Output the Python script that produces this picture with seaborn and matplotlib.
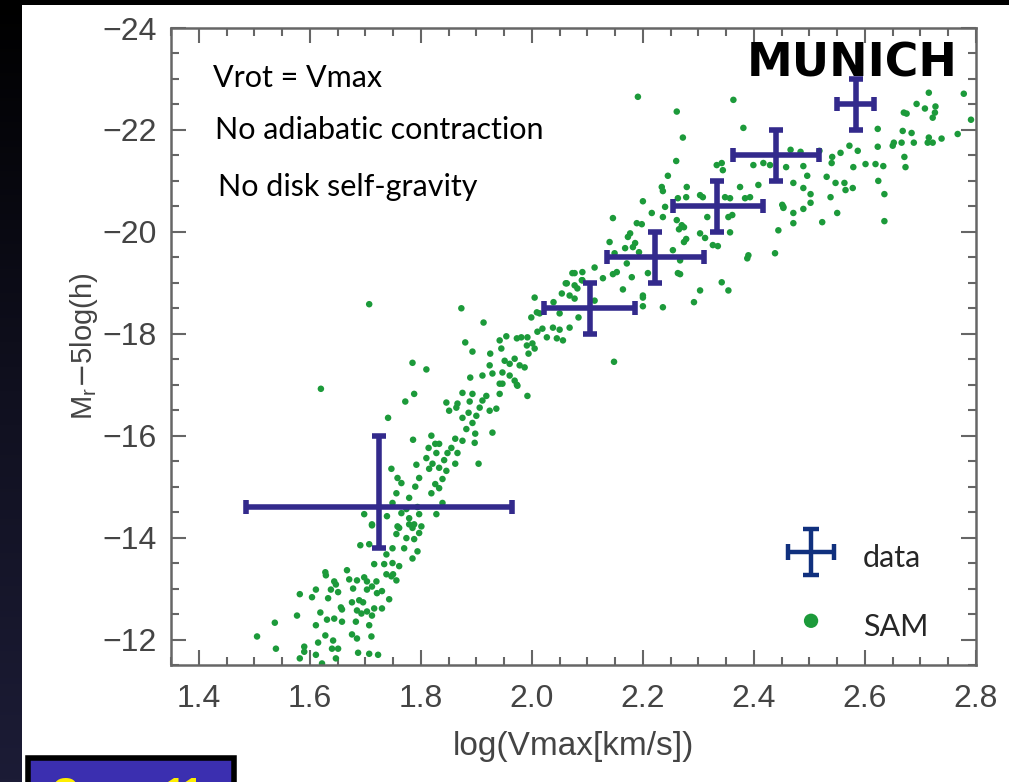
import numpy as np
import matplotlib
matplotlib.use("Agg")
import matplotlib.pyplot as plt
from matplotlib.patches import Rectangle
from matplotlib.ticker import AutoMinorLocator
from matplotlib.colors import LinearSegmentedColormap
from matplotlib.legend_handler import HandlerErrorbar
import seaborn as sns

# binned observational data (log Vmax, M_r - 5log h)
data_x = [1.725, 2.105, 2.222, 2.334, 2.44, 2.583]
data_y = [-14.6, -18.5, -19.5, -20.5, -21.5, -22.5]
data_xerr_lo = [0.24, 0.084, 0.087, 0.08, 0.077, 0.033]
data_xerr_hi = [0.24, 0.08, 0.088, 0.083, 0.078, 0.033]
data_yerr_bright = [1.4, 0.5, 0.5, 0.5, 0.5, 0.5]
data_yerr_faint = [0.8, 0.5, 0.5, 0.5, 0.5, 0.5]

# SAM galaxies
sam_x = [
    1.505, 1.537, 1.539, 1.582, 1.577, 1.611, 1.604, 1.619, 1.611, 1.615, 1.590, 1.590, 1.582,
    1.628, 1.629, 1.644, 1.647, 1.638, 1.651, 1.633, 1.631, 1.644, 1.658, 1.628, 1.642, 1.640,
    1.651, 1.647, 1.611, 1.622, 1.667, 1.671, 1.678, 1.656, 1.658, 1.676, 1.689, 1.696, 1.685,
    1.693, 1.703, 1.716, 1.712, 1.683, 1.707, 1.676, 1.685, 1.711, 1.687, 1.707, 1.723, 1.685,
    1.698, 1.703, 1.720, 1.712, 1.703, 1.721, 1.730, 1.743, 1.730, 1.716, 1.734, 1.749, 1.761,
    1.738, 1.750, 1.756, 1.747, 1.691, 1.707, 1.712, 1.738, 1.749, 1.756, 1.761, 1.770, 1.774,
    1.785, 1.794, 1.788, 1.797, 1.801, 1.779,
    1.741, 1.772, 1.788, 1.786, 1.747, 1.758, 1.765, 1.756, 1.749, 1.779, 1.790, 1.797, 1.792,
    1.810, 1.814, 1.819, 1.826, 1.833, 1.828, 1.815, 1.821, 1.833, 1.842, 1.848, 1.855, 1.862,
    1.866, 1.862, 1.846, 1.839, 1.826, 1.819, 1.833, 1.839, 1.828, 1.875, 1.898, 1.904, 1.897,
    1.929, 1.882, 1.875, 1.886, 1.893, 1.900, 1.906, 1.911, 1.918, 1.924, 1.936, 1.942, 1.947,
    1.969, 1.974, 1.992, 1.893, 1.875, 1.888, 1.866, 1.846, 1.864, 1.851, 1.774, 1.779, 1.765,
    1.788, 1.758, 1.797, 1.712, 1.698, 1.739, 1.794, 1.785,
    1.785, 1.810, 1.873, 1.913, 1.880, 1.893, 1.889, 1.911, 1.925, 1.924, 1.929, 1.942, 1.954,
    1.945, 1.951, 1.960, 1.969, 1.978, 1.987, 1.947, 1.960, 1.973, 1.942, 1.973, 1.981, 1.992,
    1.991, 2.001, 2.005, 1.994, 2.010, 2.019, 2.027, 2.038, 2.050, 2.045, 2.056, 1.999, 2.009,
    2.014, 2.005, 2.039, 2.054, 2.061, 2.068, 2.077, 2.073, 2.091, 2.091, 2.082, 2.084, 2.050,
    2.068, 2.113, 2.113, 1.707, 1.620,
    2.191, 2.261, 2.272, 2.260, 2.245, 2.234, 2.236, 2.200, 2.216, 2.146, 2.189, 2.198, 2.177,
    2.173, 2.140, 2.186, 2.168, 2.182, 2.193, 2.149, 2.171, 2.153, 2.146, 2.180, 2.209, 2.279,
    2.278, 2.263, 2.240, 2.236, 2.261, 2.270, 2.274, 2.265, 2.278, 2.274, 2.254, 2.267, 2.303,
    2.312, 2.303, 2.308, 2.333, 2.342, 2.344, 2.348, 2.357, 2.361, 2.354, 2.357, 2.326, 2.335,
    2.316, 2.375, 2.384, 2.393, 2.408, 2.381, 2.363, 2.399, 2.417, 2.429, 2.451, 2.453, 2.444,
    2.438, 2.390, 2.388, 2.342, 2.354, 2.303, 2.263, 2.164, 2.200, 2.077, 2.063, 2.077, 2.090,
    2.128, 2.236, 2.200, 2.200, 2.292, 2.267, 2.148,
    2.715, 2.778, 2.693, 2.708, 2.727, 2.726, 2.722, 2.670, 2.675, 2.791, 2.623, 2.668, 2.684,
    2.767, 2.715, 2.738, 2.713, 2.722, 2.688, 2.666, 2.652, 2.650, 2.623, 2.572, 2.587, 2.556,
    2.541, 2.540, 2.518, 2.484, 2.466, 2.671, 2.673, 2.601, 2.619, 2.633, 2.579, 2.458, 2.489,
    2.496, 2.531, 2.547, 2.563, 2.565, 2.578, 2.624, 2.471, 2.489, 2.502, 2.538, 2.635, 2.502,
    2.489, 2.471, 2.453, 2.550, 2.523, 2.471, 2.635,
]
sam_y = [
    -12.06, -12.33, -11.82, -12.89, -12.47, -12.98, -12.83, -12.53, -12.28, -11.94, -11.86, -11.76, -11.63,
    -13.32, -13.26, -13.14, -13.08, -12.98, -12.93, -12.81, -12.39, -12.41, -12.35, -12.08, -11.98, -11.82,
    -11.82, -11.63, -11.70, -11.53, -13.36, -13.18, -13.00, -12.63, -12.59, -12.73, -12.77, -12.73, -12.57,
    -12.51, -12.55, -12.61, -12.47, -12.35, -12.28, -12.10, -12.02, -12.06, -11.74, -11.72, -11.70, -13.16,
    -13.22, -13.14, -13.14, -13.04, -12.98, -12.91, -12.95, -12.79, -12.61, -13.48, -13.48, -13.50, -13.44,
    -13.28, -13.28, -13.16, -13.24, -13.85, -13.87, -14.24, -13.67, -13.79, -14.07, -14.19, -13.79, -13.99,
    -13.59, -13.73, -13.97, -14.09, -14.22, -14.26,
    -16.35, -16.67, -16.82, -15.92, -15.35, -15.17, -15.07, -14.87, -14.68, -14.78, -15.00, -15.17, -15.43,
    -15.56, -15.76, -16.00, -15.84, -15.84, -15.66, -15.35, -15.45, -15.37, -15.52, -15.66, -15.76, -15.94,
    -15.66, -15.45, -15.31, -15.15, -15.05, -14.87, -14.97, -14.68, -14.46, -15.90, -16.04, -15.45, -15.86,
    -16.06, -16.13, -16.35, -16.45, -16.25, -16.39, -16.55, -16.69, -16.78, -16.49, -16.53, -16.82, -17.02,
    -17.08, -16.98, -16.78, -16.82, -16.84, -16.67, -16.63, -16.65, -16.55, -16.49, -14.56, -14.38, -14.48,
    -14.26, -14.22, -14.46, -14.26, -14.46, -14.42, -14.60, -14.19,
    -17.43, -17.30, -18.50, -18.22, -17.83, -17.65, -17.14, -17.18, -17.61, -17.38, -17.22, -17.87, -17.95,
    -17.71, -17.47, -17.41, -17.51, -17.38, -17.34, -17.24, -17.18, -17.00, -17.02, -17.91, -17.93, -17.93,
    -17.77, -17.81, -17.71, -17.61, -18.04, -18.10, -17.93, -18.12, -18.08, -17.91, -17.87, -18.32, -18.42,
    -18.40, -18.71, -18.62, -18.79, -18.99, -18.75, -18.69, -19.19, -19.21, -19.05, -18.89, -18.32, -18.40,
    -18.12, -19.30, -18.65, -18.58, -16.92,
    -22.65, -22.36, -21.85, -21.39, -21.10, -20.88, -20.80, -20.60, -20.37, -20.27, -20.17, -20.15, -19.97,
    -19.90, -19.80, -19.78, -19.68, -19.70, -19.60, -19.58, -19.38, -19.21, -19.17, -19.11, -19.19, -20.88,
    -20.68, -20.66, -20.49, -20.29, -20.23, -20.13, -20.09, -20.05, -19.86, -19.80, -19.64, -19.44, -19.97,
    -19.88, -20.72, -20.68, -21.31, -21.35, -21.21, -20.68, -20.66, -20.33, -20.29, -19.99, -19.74, -19.72,
    -20.29, -20.88, -20.66, -20.68, -20.92, -22.04, -22.59, -21.31, -21.35, -21.31, -20.53, -20.47, -20.03,
    -19.58, -19.54, -19.48, -19.01, -18.85, -18.85, -19.19, -18.87, -18.75, -19.19, -18.99, -18.95, -19.05,
    -19.09, -18.52, -18.54, -18.71, -18.62, -19.17, -17.45,
    -22.73, -22.71, -22.51, -22.42, -22.46, -22.34, -22.24, -22.34, -22.32, -22.20, -22.02, -21.98, -21.94,
    -21.92, -21.85, -21.83, -21.75, -21.75, -21.75, -21.75, -21.75, -21.69, -21.67, -21.69, -21.59, -21.55,
    -21.47, -21.35, -21.59, -21.57, -21.61, -21.47, -21.27, -21.33, -21.33, -21.29, -21.27, -21.27, -21.29,
    -21.10, -21.08, -20.96, -20.96, -20.82, -20.86, -21.00, -20.96, -20.86, -20.74, -20.68, -20.74, -20.57,
    -20.45, -20.37, -20.49, -20.37, -20.19, -20.17, -20.21,
]

annotations = ["Vrot = Vmax", "No adiabatic contraction", "No disk self-gravity"]

sns.set_style("ticks")
plt.rcParams["font.family"] = ["Liberation Sans", "DejaVu Sans"]

fig = plt.figure(figsize=(10.09, 7.82), dpi=100)
fig.patch.set_facecolor("white")

# slide decorations: dark strip on the left, black line on top, group badge
strip = fig.add_axes([0, 0, 22 / 1009, 1])
grad = np.linspace(0, 1, 256).reshape(-1, 1)
cmap = LinearSegmentedColormap.from_list("slide", ["#000000", "#10101f", "#1c1c36"])
strip.imshow(grad, aspect="auto", cmap=cmap, extent=[0, 1, 0, 1], origin="upper")
strip.axis("off")
fig.patches.append(Rectangle((0, 1 - 5 / 782), 1, 5 / 782, transform=fig.transFigure,
                             facecolor="black", edgecolor="none", zorder=5))
fig.patches.append(Rectangle((28 / 1009, -0.05), 206 / 1009, 0.05 + 24 / 782,
                             transform=fig.transFigure, facecolor="#3b2fb0",
                             edgecolor="black", linewidth=4, zorder=5))
fig.text(52 / 1009, -0.026, "Group 11", color="#ffee00", fontsize=25,
         fontweight="bold", ha="left", va="baseline", zorder=6)

ax = fig.add_axes([171 / 1009, 1 - 665 / 782, 805 / 1009, 637 / 782])

sns.scatterplot(x=sam_x, y=sam_y, ax=ax, color="#1c9a3a", s=22, edgecolor="none",
                label="SAM", zorder=2)
ax.errorbar(data_x, data_y,
            xerr=[data_xerr_lo, data_xerr_hi],
            yerr=[data_yerr_bright, data_yerr_faint],
            fmt="none", ecolor="#332a8c", elinewidth=4.0, capsize=5,
            capthick=4.0, zorder=3)
# legend proxy (drawn in the legend only)
proxy = ax.errorbar([np.nan], [np.nan], xerr=[1], yerr=[1], fmt="none",
                    ecolor="#10307e", elinewidth=3.2, capsize=6, capthick=3.2,
                    label="data")

ax.set_xlim(1.35, 2.8)
ax.set_ylim(-11.5, -24)
ax.set_xticks(np.arange(1.4, 2.81, 0.2))
ax.set_yticks(np.arange(-24, -11.9, 2))
ax.xaxis.set_minor_locator(AutoMinorLocator(4))
ax.yaxis.set_minor_locator(AutoMinorLocator(4))
ax.tick_params(which="both", direction="in", top=True, right=True, color="#666666",
               width=1.5, labelsize=23, labelcolor="#444444")
ax.tick_params(axis="x", which="both", pad=14)
ax.tick_params(axis="y", which="both", pad=10)
ax.tick_params(which="major", length=11)
ax.tick_params(which="minor", length=6)
for s in ax.spines.values():
    s.set_color("#666666")
    s.set_linewidth(1.8)

ax.set_xlabel("log(Vmax[km/s])", fontsize=24, color="#444444", labelpad=12)
ax.set_ylabel(r"M$_\mathregular{r}$$-$5log(h)", fontsize=21, color="#444444", labelpad=2)

ys = [0.921, 0.840, 0.750]
xs = [0.052, 0.055, 0.059]
for t, xx, yy in zip(annotations, xs, ys):
    ax.text(xx, yy, t, transform=ax.transAxes, fontsize=22, family=["Lato", "DejaVu Sans"],
            ha="left", va="center", color="black")
ax.text(0.715, 0.943, "MUNICH", transform=ax.transAxes, fontsize=33, fontweight="bold",
        family=["DejaVu Sans"], ha="left", va="center", color="black")

handles, labels = ax.get_legend_handles_labels()
order = [labels.index("data"), labels.index("SAM")]
ax.legend([handles[i] for i in order], [labels[i] for i in order],
          loc="lower right", bbox_to_anchor=(0.975, -0.012), frameon=False,
          prop={"family": ["Lato", "DejaVu Sans"], "size": 22},
          handlelength=1.6, handleheight=1.6, handletextpad=0.9,
          labelspacing=0.95, markerscale=2.2,
          handler_map={type(proxy): HandlerErrorbar(xerr_size=0.75, yerr_size=0.75)})

fig.savefig("out.png", dpi=100, facecolor="white")
